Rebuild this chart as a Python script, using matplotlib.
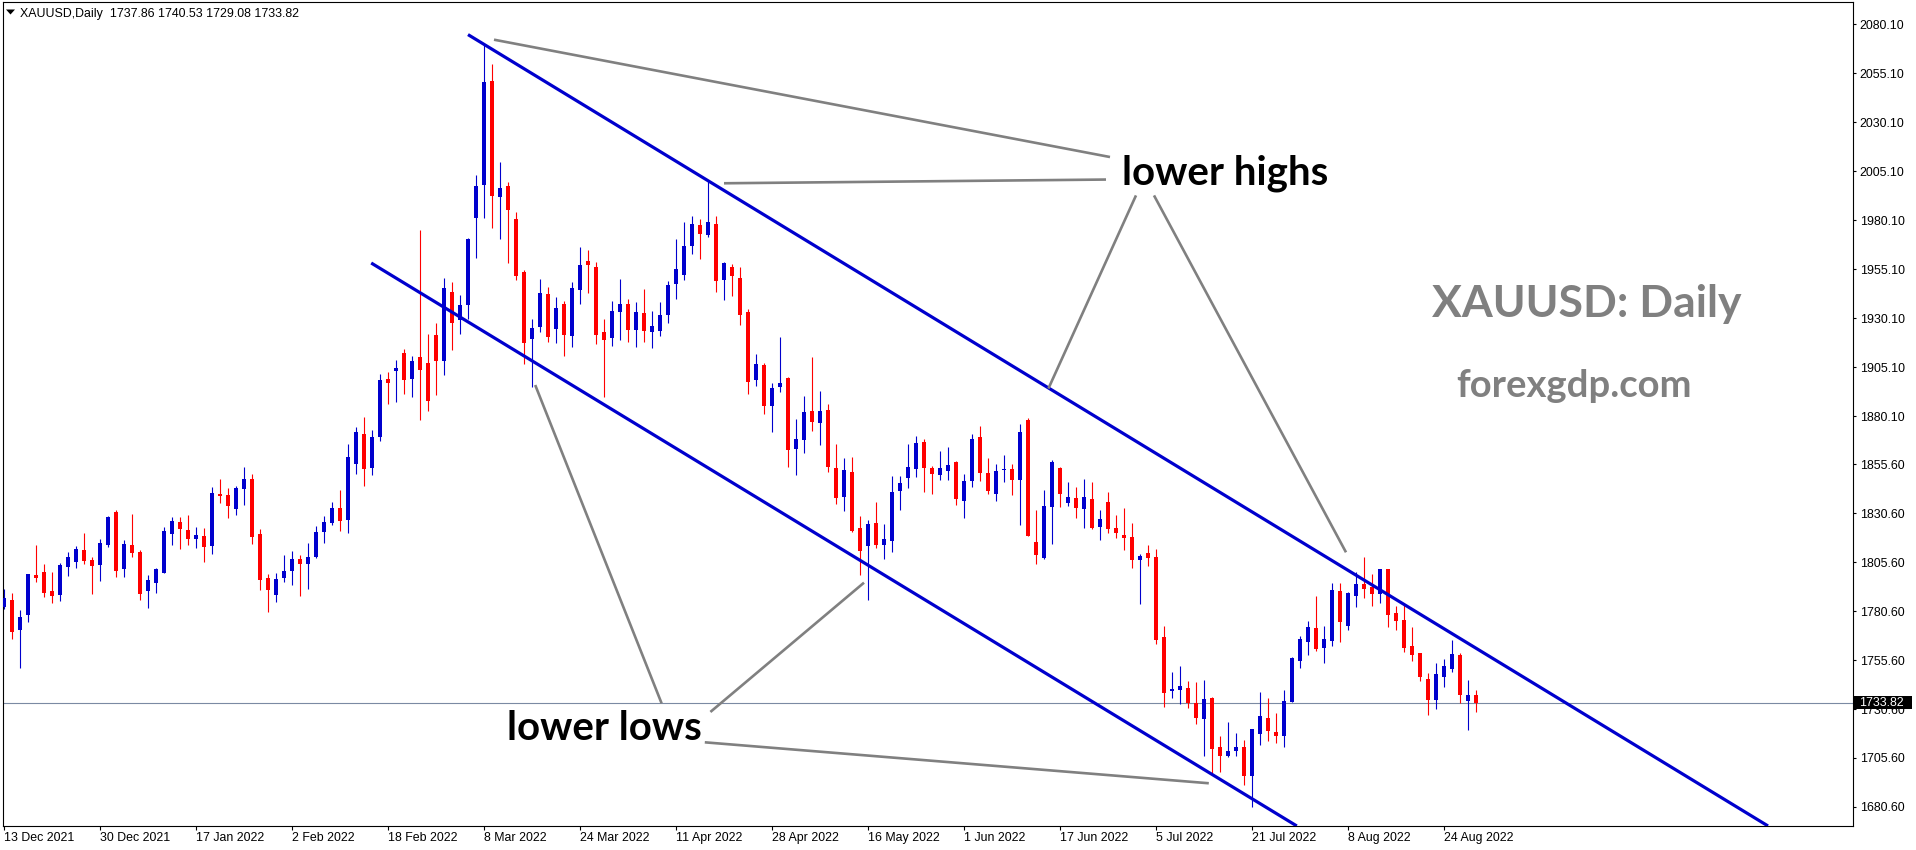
import matplotlib
matplotlib.use("Agg")
import matplotlib.pyplot as plt
from matplotlib.patches import Rectangle, Polygon

# ---------------- data (XAUUSD daily, 13 Dec 2021 - 30 Aug 2022) ----------------
date_labels = ["13 Dec 2021", "30 Dec 2021", "17 Jan 2022", "2 Feb 2022", "18 Feb 2022",
               "8 Mar 2022", "24 Mar 2022", "11 Apr 2022", "28 Apr 2022", "16 May 2022",
               "1 Jun 2022", "17 Jun 2022", "5 Jul 2022", "21 Jul 2022", "8 Aug 2022",
               "24 Aug 2022"]
label_every = 12

opens = [
    1782.5, 1786.3, 1771.1, 1778.8, 1799.0, 1800.6, 1790.9, 1789.0, 1803.3, 1805.8,
    1811.8, 1806.7, 1804.3, 1814.3, 1831.2, 1802.3, 1814.3, 1810.8, 1791.0, 1795.1,
    1800.2, 1820.1, 1826.1, 1822.0, 1817.6, 1818.9, 1814.0, 1840.4, 1839.9, 1832.9,
    1843.1, 1848.0, 1820.0, 1797.5, 1789.0, 1797.7, 1801.2, 1807.2, 1804.8, 1808.4,
    1821.1, 1825.6, 1833.2, 1827.3, 1855.9, 1871.0, 1853.8, 1869.6, 1899.1, 1903.3,
    1912.4, 1899.3, 1910.3, 1907.3, 1921.5, 1908.4, 1943.5, 1929.4, 1937.0, 1981.4,
    1998.1, 2051.2, 1992.2, 1997.8, 1980.8, 1953.9, 1919.7, 1925.8, 1942.5, 1924.8,
    1937.4, 1921.2, 1944.7, 1959.5, 1956.3, 1923.1, 1920.2, 1933.5, 1937.4, 1924.3,
    1932.8, 1923.2, 1923.8, 1931.9, 1947.8, 1952.3, 1967.1, 1977.7, 1972.8, 1978.4,
    1949.8, 1956.3, 1950.6, 1933.3, 1898.6, 1906.2, 1885.5, 1895.2, 1899.6, 1863.5,
    1868.1, 1882.7, 1876.8, 1883.3, 1853.6, 1839.0, 1851.6, 1823.0, 1814.0, 1825.6,
    1814.5, 1816.6, 1842.1, 1848.7, 1853.3, 1866.9, 1853.6, 1850.2, 1852.3, 1856.7,
    1837.0, 1847.2, 1869.5, 1851.1, 1840.5, 1852.6, 1853.1, 1847.7, 1878.2, 1815.9,
    1807.9, 1833.6, 1853.7, 1836.0, 1838.3, 1832.9, 1837.8, 1823.7, 1836.3, 1823.0,
    1819.4, 1818.4, 1806.9, 1810.3, 1808.2, 1767.4, 1740.0, 1740.5, 1741.5, 1733.9,
    1725.7, 1736.2, 1711.2, 1706.8, 1709.3, 1711.2, 1696.6, 1718.0, 1726.2, 1719.0,
    1717.0, 1734.2, 1755.3, 1765.0, 1772.0, 1761.9, 1765.5, 1790.9, 1773.2, 1788.5,
    1794.4, 1792.9, 1789.5, 1802.1, 1779.8, 1776.1, 1762.8, 1759.2, 1745.9, 1735.4,
    1747.1, 1751.2, 1758.2, 1734.9, 1737.86]

highs = [
    1791.9, 1790.0, 1781.2, 1799.5, 1814.3, 1804.6, 1800.6, 1805.2, 1810.8, 1813.8,
    1820.5, 1808.2, 1817.4, 1829.1, 1832.2, 1816.9, 1830.2, 1811.8, 1799.0, 1802.6,
    1823.5, 1828.6, 1828.6, 1829.7, 1823.5, 1823.0, 1844.0, 1848.0, 1843.4, 1844.5,
    1854.2, 1850.6, 1822.5, 1799.5, 1800.0, 1809.2, 1811.3, 1809.2, 1815.4, 1824.0,
    1829.1, 1836.3, 1842.4, 1865.9, 1874.6, 1879.7, 1873.0, 1901.6, 1902.7, 1908.8,
    1914.6, 1910.8, 1975.1, 1922.1, 1927.7, 1950.6, 1948.6, 1942.0, 1971.1, 2003.2,
    2069.6, 2059.9, 2009.9, 1999.7, 1984.3, 1954.9, 1929.7, 1950.3, 1946.0, 1940.9,
    1938.9, 1948.6, 1966.5, 1964.9, 1958.8, 1929.7, 1938.9, 1950.1, 1939.9, 1938.4,
    1945.0, 1933.8, 1938.4, 1949.1, 1970.6, 1979.2, 1982.3, 1980.8, 2000.7, 1982.5,
    1958.8, 1957.8, 1956.4, 1934.8, 1911.8, 1907.3, 1897.0, 1920.5, 1900.1, 1878.7,
    1890.4, 1910.3, 1893.0, 1886.3, 1865.9, 1858.8, 1859.3, 1829.1, 1827.1, 1836.3,
    1825.1, 1849.6, 1849.6, 1865.9, 1870.0, 1868.5, 1854.7, 1862.3, 1864.4, 1857.0,
    1850.6, 1871.0, 1875.1, 1858.8, 1855.7, 1860.3, 1855.7, 1876.1, 1879.2, 1832.2,
    1842.4, 1857.7, 1854.0, 1846.5, 1844.0, 1848.0, 1846.5, 1832.2, 1841.4, 1829.7,
    1833.2, 1825.6, 1809.7, 1814.5, 1812.3, 1773.0, 1749.5, 1752.7, 1745.1, 1744.6,
    1745.4, 1736.5, 1717.0, 1724.2, 1718.5, 1715.0, 1720.4, 1739.5, 1736.4, 1728.7,
    1740.5, 1757.3, 1768.1, 1775.7, 1788.3, 1773.2, 1795.1, 1795.1, 1790.3, 1800.6,
    1808.4, 1799.7, 1802.1, 1802.3, 1783.4, 1783.7, 1772.5, 1759.4, 1749.0, 1754.1,
    1756.1, 1765.8, 1759.2, 1745.4, 1740.53]

lows = [
    1781.8, 1766.5, 1751.4, 1775.2, 1795.6, 1788.0, 1784.9, 1785.9, 1798.7, 1802.8,
    1804.8, 1789.5, 1796.1, 1813.5, 1798.2, 1798.2, 1808.4, 1786.4, 1782.3, 1790.0,
    1800.0, 1814.5, 1812.5, 1814.5, 1813.0, 1805.8, 1809.9, 1836.0, 1828.3, 1829.8,
    1834.9, 1815.0, 1791.5, 1780.3, 1785.4, 1795.6, 1794.1, 1788.5, 1792.0, 1807.9,
    1815.5, 1824.7, 1821.7, 1820.6, 1850.8, 1844.6, 1850.2, 1867.6, 1886.5, 1887.5,
    1891.6, 1889.7, 1878.3, 1882.9, 1891.1, 1901.3, 1914.1, 1922.2, 1929.9, 1961.0,
    1981.4, 1976.3, 1970.7, 1958.5, 1949.8, 1906.9, 1895.2, 1923.2, 1918.1, 1917.6,
    1911.0, 1915.6, 1937.5, 1943.2, 1917.1, 1890.1, 1916.1, 1919.2, 1918.1, 1915.6,
    1918.1, 1915.1, 1921.2, 1927.8, 1940.1, 1949.8, 1963.1, 1960.5, 1971.7, 1943.7,
    1939.6, 1941.6, 1926.8, 1891.6, 1895.5, 1881.4, 1872.2, 1892.6, 1854.3, 1850.2,
    1861.5, 1872.7, 1865.6, 1851.8, 1835.4, 1831.9, 1821.0, 1799.2, 1786.4, 1813.0,
    1807.4, 1810.9, 1832.4, 1843.6, 1849.2, 1841.6, 1840.5, 1847.7, 1847.7, 1834.9,
    1828.3, 1844.1, 1847.2, 1840.5, 1837.0, 1846.7, 1840.0, 1824.7, 1819.1, 1804.8,
    1807.4, 1815.0, 1833.9, 1834.4, 1828.3, 1823.2, 1822.7, 1817.1, 1820.6, 1818.1,
    1812.0, 1802.8, 1784.4, 1803.8, 1764.0, 1731.8, 1736.4, 1733.0, 1731.3, 1723.1,
    1706.8, 1698.1, 1698.6, 1706.3, 1706.8, 1692.0, 1680.8, 1712.4, 1714.5, 1713.4,
    1711.4, 1734.0, 1751.7, 1758.4, 1760.4, 1754.3, 1762.9, 1765.0, 1771.1, 1782.9,
    1787.5, 1783.4, 1784.9, 1772.6, 1771.1, 1759.9, 1755.3, 1745.1, 1727.7, 1730.8,
    1742.0, 1749.7, 1733.9, 1720.1, 1729.08]

closes = [
    1787.3, 1770.1, 1777.6, 1799.5, 1797.7, 1790.0, 1788.5, 1804.1, 1808.2, 1812.3,
    1806.3, 1803.8, 1815.4, 1828.6, 1801.2, 1814.9, 1810.4, 1789.5, 1796.5, 1802.1,
    1821.5, 1826.6, 1822.7, 1817.6, 1819.4, 1813.5, 1840.9, 1839.5, 1834.4, 1843.4,
    1848.0, 1818.6, 1796.6, 1791.5, 1797.0, 1801.1, 1807.2, 1804.8, 1808.2, 1821.0,
    1826.1, 1833.2, 1826.8, 1859.3, 1872.0, 1853.3, 1869.5, 1898.6, 1897.2, 1904.7,
    1898.7, 1908.3, 1903.8, 1888.0, 1908.4, 1945.5, 1927.8, 1936.9, 1970.6, 1997.6,
    2050.9, 1992.7, 1996.8, 1985.5, 1951.8, 1917.6, 1925.1, 1943.0, 1920.7, 1935.3,
    1921.7, 1945.5, 1957.3, 1957.5, 1921.7, 1919.2, 1933.8, 1937.4, 1924.3, 1933.3,
    1923.8, 1926.1, 1931.8, 1947.1, 1955.2, 1967.0, 1978.2, 1973.3, 1979.2, 1949.3,
    1958.3, 1951.8, 1931.9, 1897.7, 1906.7, 1885.5, 1894.5, 1897.0, 1863.0, 1868.5,
    1882.2, 1877.3, 1882.7, 1854.3, 1838.5, 1852.6, 1821.7, 1811.4, 1825.1, 1814.5,
    1817.4, 1841.4, 1846.0, 1854.2, 1866.4, 1853.8, 1850.8, 1853.6, 1855.2, 1838.0,
    1847.0, 1868.5, 1851.3, 1842.1, 1852.1, 1853.1, 1847.7, 1872.0, 1819.1, 1809.4,
    1834.3, 1856.7, 1840.5, 1838.8, 1833.4, 1838.8, 1823.2, 1827.6, 1822.7, 1820.6,
    1818.1, 1806.9, 1808.7, 1807.9, 1766.0, 1739.0, 1740.5, 1742.5, 1733.9, 1726.2,
    1735.7, 1710.4, 1706.8, 1709.3, 1711.4, 1696.6, 1720.4, 1727.0, 1719.6, 1717.0,
    1734.7, 1756.7, 1766.5, 1772.5, 1761.4, 1766.5, 1791.4, 1775.2, 1789.8, 1794.4,
    1792.0, 1789.5, 1802.1, 1778.8, 1775.7, 1761.9, 1758.4, 1747.1, 1735.4, 1748.5,
    1752.6, 1758.7, 1737.9, 1737.8, 1733.82]

price_ticks = [2080.10, 2055.10, 2030.10, 2005.10, 1980.10, 1955.10, 1930.10, 1905.10,
               1880.10, 1855.60, 1830.60, 1805.60, 1780.60, 1755.60, 1730.60, 1705.60,
               1680.60]

# channel lines: (bar index, price) anchor points
upper_channel = [(58.0, 2074.9), (220.5, 1670.9)]
lower_channel = [(45.9, 1958.3), (161.6, 1670.9)]
# grey annotation pointer lines (bar index, price)
pointer_lines = [
    [(61.25, 2072.3), (138.25, 2012.4)],
    [(90.0, 1999.0), (137.75, 2000.9)],
    [(141.5, 1992.8), (130.55, 1894.2)],
    [(143.75, 1992.8), (167.75, 1810.6)],
    [(66.4, 1896.0), (82.2, 1733.5)],
    [(88.3, 1729.1), (107.5, 1795.1)],
    [(87.6, 1713.6), (150.6, 1692.7)],
]

symbol = "XAUUSD,Daily"
# ---------------------------------------------------------------------------

W, H = 1916, 850
fig = plt.figure(figsize=(W / 100, H / 100), dpi=100)
fig.patch.set_facecolor("white")


def px(x, y):
    return x / W, 1 - y / H


ax_left, ax_right, ax_top, ax_bottom = 2.5, 1852.5, 2.0, 826.0
ax = fig.add_axes([ax_left / W, 1 - ax_bottom / H, (ax_right - ax_left) / W,
                   (ax_bottom - ax_top) / H])

BLUE = "#0000CD"
RED = "#FF0000"
n = len(opens)
xs = list(range(n))
cols = [BLUE if c >= o else RED for o, c in zip(opens, closes)]
bottoms = [min(o, c) for o, c in zip(opens, closes)]
heights = [max(abs(c - o), 0.6) for o, c in zip(opens, closes)]

ax.vlines(xs, lows, highs, colors=cols, linewidth=0.8, zorder=2)
ax.bar(xs, heights, bottom=bottoms, width=0.62, color=cols, linewidth=0, zorder=3)

ax.set_xlim(-0.1875, 231.0625)
ax.set_ylim(1670.88, 2091.54)

# last price line
ax.axhline(closes[-1], color="#7B8AA3", linewidth=0.8, zorder=1)

# channel lines
for line in (upper_channel, lower_channel):
    ax.plot([p[0] for p in line], [p[1] for p in line], color=BLUE, linewidth=2.3,
            solid_capstyle="butt", zorder=4)
for line in pointer_lines:
    ax.plot([p[0] for p in line], [p[1] for p in line], color="#808080", linewidth=1.9,
            solid_capstyle="butt", zorder=4)

# axes styling
for s in ax.spines.values():
    s.set_color("black")
    s.set_linewidth(0.8)

small_font = "Liberation Sans"
ax.yaxis.tick_right()
ax.set_yticks(price_ticks)
ax.set_yticklabels([f"{v:.2f}" for v in price_ticks])
ax.tick_params(axis="y", length=2.3, width=0.8, pad=3.0, labelsize=8.9, colors="black")
for t in ax.get_yticklabels():
    t.set_fontfamily(small_font)

ax.set_xticks([i * label_every for i in range(len(date_labels))])
ax.set_xticklabels(date_labels)
ax.tick_params(axis="x", length=3.0, width=0.8, pad=1.5, labelsize=8.9, colors="black")
for t in ax.get_xticklabels():
    t.set_fontfamily(small_font)
    t.set_horizontalalignment("left")

# last price box on the right axis
y_last = 24.4 + (2080.1 - closes[-1]) / 0.5105
fig.patches.append(Rectangle(px(1853.5, y_last + 6.5), 58 / W, 13 / H,
                             transform=fig.transFigure, facecolor="black",
                             edgecolor="none", zorder=5))
fig.text(*px(1859.5, y_last), f"{closes[-1]:.2f}", color="white", fontsize=8.9,
         family=small_font, va="center", ha="left", zorder=6)

# header
fig.patches.append(Polygon([px(6, 9.5), px(15, 9.5), px(10.5, 14.5)], closed=True,
                           transform=fig.transFigure, facecolor="black",
                           edgecolor="none", zorder=5))
fig.text(*px(20.5, 17.3),
         f"{symbol}  {opens[-1]:.2f} {highs[-1]:.2f} {lows[-1]:.2f} {closes[-1]:.2f}",
         fontsize=8.9, family=small_font, color="black", va="baseline", ha="left")

# annotation texts
big_font = "Lato"
fig.text(*px(1122, 185), "lower highs", fontsize=29, family=big_font,
         fontweight="bold", color="black", va="baseline", ha="left")
fig.text(*px(507, 740), "lower lows", fontsize=29, family=big_font,
         fontweight="bold", color="black", va="baseline", ha="left")
fig.text(*px(1432, 316.7), "XAUUSD: Daily", fontsize=32, family=big_font,
         fontweight="bold", color="#808080", va="baseline", ha="left")
fig.text(*px(1456, 397), "forexgdp.com", fontsize=27.5, family=big_font,
         fontweight="bold", color="#808080", va="baseline", ha="left")

fig.savefig("out.png", dpi=100, facecolor="white")
